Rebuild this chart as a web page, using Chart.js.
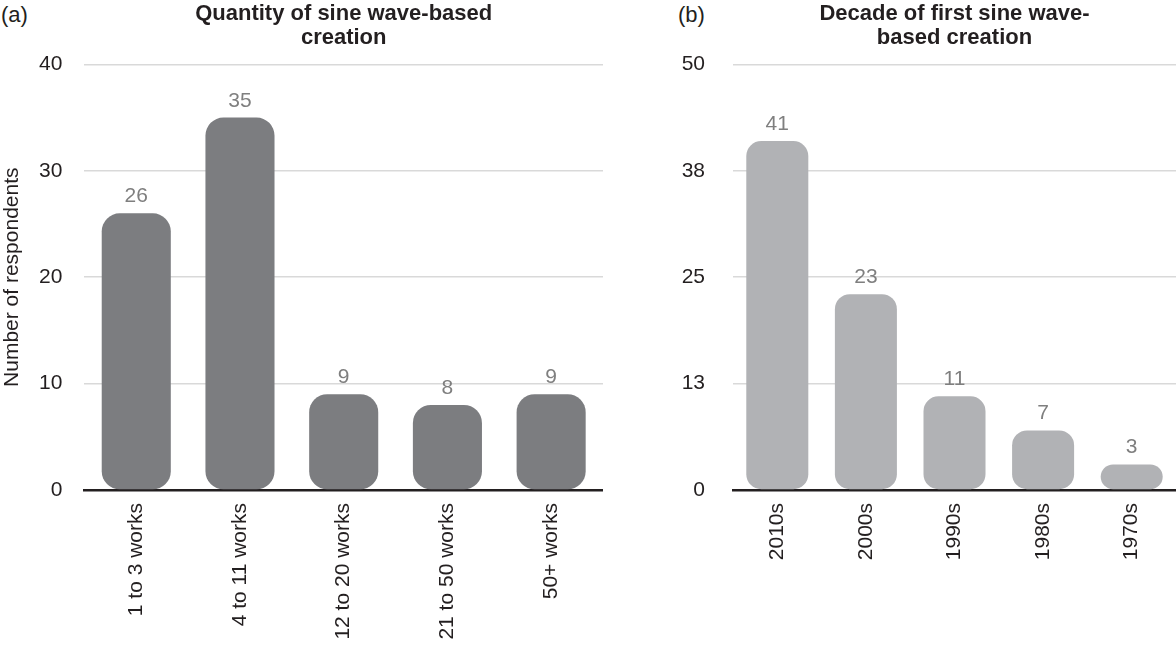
<!DOCTYPE html>
<html>
<head>
<meta charset="utf-8">
<script src="https://cdn.jsdelivr.net/npm/chart.js@4.4.1/dist/chart.umd.min.js"></script>
<style>
  html, body { margin: 0; padding: 0; background: #fff; overflow: hidden; }
  body { width: 1176px; height: 647px; position: relative; font-family: "Liberation Sans", Arial, sans-serif; }
  .panel { position: absolute; top: 0; }
  .tag { position: absolute; top: 3px; font-size: 22px; color: #231f20; line-height: 24px; }
</style>
</head>
<body>
<div class="tag" style="left:1px">(a)</div>
<div class="tag" style="left:678px">(b)</div>
<div class="panel" style="left:0px"><canvas id="quantity" width="603" height="647"></canvas></div>
<div class="panel" style="left:680px"><canvas id="decade" width="496" height="647"></canvas></div>
<script>
const quantityLabels = ['1 to 3 works', '4 to 11 works', '12 to 20 works', '21 to 50 works', '50+ works'];
const quantityCounts = [26, 35, 9, 8, 9];
const quantityTicks = [0, 10, 20, 30, 40];

const decadeLabels = ['2010s', '2000s', '1990s', '1980s', '1970s'];
const decadeCounts = [41, 23, 11, 7, 3];
const decadeTicks = [0, 12.5, 25, 37.5, 50];
const decadeTickLabels = ['0', '13', '25', '38', '50'];

const FONT = '"Liberation Sans", Arial, sans-serif';
const INK = '#231f20';

// draws the count above each bar
const valueLabels = {
  id: 'valueLabels',
  afterDatasetsDraw(chart) {
    const ctx = chart.ctx;
    const ds = chart.data.datasets[0];
    ctx.save();
    ctx.font = `21px ${FONT}`;
    ctx.fillStyle = '#7f7f7f';
    ctx.textAlign = 'center';
    ctx.textBaseline = 'alphabetic';
    chart.getDatasetMeta(0).data.forEach((bar, i) => {
      ctx.fillText(String(ds.data[i]), bar.x, bar.y - 11);
    });
    ctx.restore();
  }
};

function makeChart(id, o) {
  return new Chart(document.getElementById(id), {
    type: 'bar',
    data: {
      labels: o.labels,
      datasets: [{
        data: o.values,
        backgroundColor: o.color,
        borderWidth: 0,
        borderRadius: o.radius,
        borderSkipped: false,
        categoryPercentage: 1,
        barPercentage: o.barPct
      }]
    },
    options: {
      responsive: false,
      animation: false,
      layout: { padding: 0 },
      plugins: {
        legend: { display: false },
        tooltip: { enabled: false },
        title: {
          display: true,
          fullSize: false,
          text: o.title,
          color: INK,
          font: { family: FONT, size: 22, weight: 'bold', lineHeight: 1.1 },
          padding: { top: 2, bottom: 14 }
        }
      },
      scales: {
        x: {
          z: 1,
          grid: { display: false, drawTicks: false },
          border: { display: true, color: INK, width: 2.5 },
          ticks: {
            color: INK, font: { family: FONT, size: 21 },
            minRotation: 90, maxRotation: 90, autoSkip: false, padding: 13
          },
          afterFit: s => { s.height = 157; }
        },
        y: {
          min: 0,
          max: o.ticks[o.ticks.length - 1],
          afterBuildTicks: s => { s.ticks = o.ticks.map(v => ({ value: v })); },
          grid: {
            drawTicks: false,
            lineWidth: 1.5,
            color: c => c.tick && c.tick.value === 0 ? 'rgba(0,0,0,0)' : '#d9d9d9'
          },
          border: { display: false },
          ticks: {
            color: INK, font: { family: FONT, size: 21 }, padding: o.tickPad,
            callback: (v, i) => o.tickLabels[i]
          },
          title: o.yTitle ? {
            display: true, text: o.yTitle, color: INK,
            font: { family: FONT, size: 21, lineHeight: 1.2 },
            padding: { top: 0, bottom: 0 }
          } : { display: false },
          afterFit: s => { s.width = o.axisWidth; }
        }
      }
    },
    plugins: [valueLabels]
  });
}

makeChart('quantity', {
  labels: quantityLabels,
  values: quantityCounts,
  ticks: quantityTicks,
  tickLabels: quantityTicks.map(String),
  title: ['Quantity of sine wave-based', 'creation'],
  yTitle: 'Number of respondents',
  color: '#7c7d80',
  radius: 18,
  barPct: 0.666,
  tickPad: 22,
  axisWidth: 84.4
});

makeChart('decade', {
  labels: decadeLabels,
  values: decadeCounts,
  ticks: decadeTicks,
  tickLabels: decadeTickLabels,
  title: ['Decade of first sine wave-', 'based creation'],
  yTitle: null,
  color: '#b1b2b5',
  radius: 15,
  barPct: 0.70,
  tickPad: 28,
  axisWidth: 53
});
</script>
</body>
</html>
